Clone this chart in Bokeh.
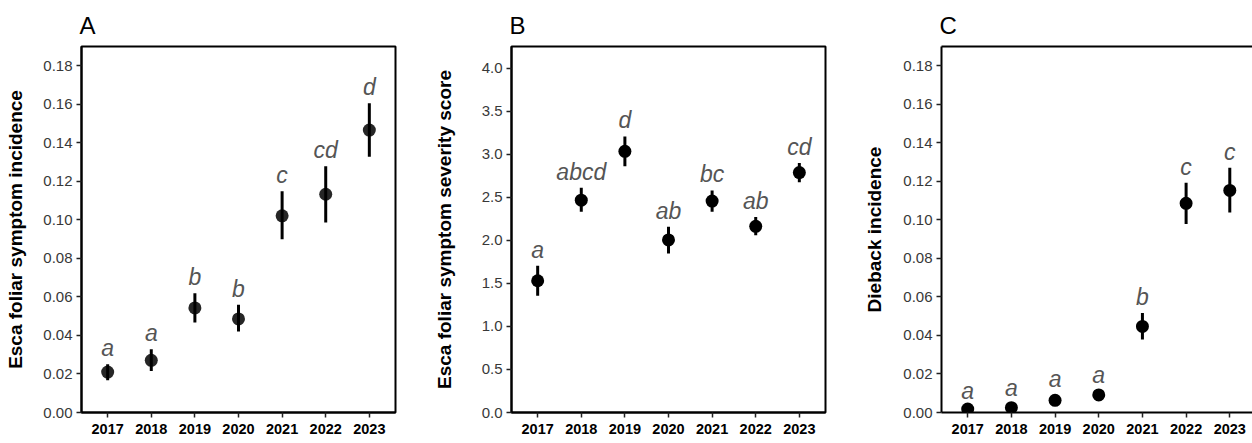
from bokeh.plotting import figure
from bokeh.models import Range1d, FixedTicker, PrintfTickFormatter, LinearAxis, ColumnDataSource
from bokeh.layouts import row
from bokeh.embed import file_html
from bokeh.resources import INLINE
from bokeh.core.properties import value

FONT = "Liberation Sans"

years = ["2017", "2018", "2019", "2020", "2021", "2022", "2023"]

# Panel A: Esca foliar symptom incidence
a_mean = [0.0210, 0.0271, 0.0543, 0.0486, 0.1021, 0.1133, 0.1466]
a_lower = [0.0167, 0.0216, 0.0467, 0.0421, 0.0900, 0.0986, 0.1328]
a_upper = [0.0250, 0.0328, 0.0619, 0.0559, 0.1148, 0.1278, 0.1605]
a_letters = ["a", "a", "b", "b", "c", "cd", "d"]
a_ticks = [0.00, 0.02, 0.04, 0.06, 0.08, 0.10, 0.12, 0.14, 0.16, 0.18]

# Panel B: Esca foliar symptom severity score
b_mean = [1.530, 2.466, 3.033, 2.004, 2.455, 2.162, 2.786]
b_lower = [1.356, 2.331, 2.859, 1.846, 2.331, 2.058, 2.674]
b_upper = [1.703, 2.609, 3.206, 2.158, 2.578, 2.270, 2.898]
b_letters = ["a", "abcd", "d", "ab", "bc", "ab", "cd"]
b_ticks = [0.0, 0.5, 1.0, 1.5, 2.0, 2.5, 3.0, 3.5, 4.0]

# Panel C: Dieback incidence
c_mean = [0.0018, 0.0025, 0.0063, 0.0091, 0.0447, 0.1086, 0.1153]
c_lower = [0.0007, 0.0012, 0.0040, 0.0068, 0.0379, 0.0978, 0.1038]
c_upper = [0.0031, 0.0043, 0.0090, 0.0113, 0.0517, 0.1193, 0.1271]
c_letters = ["a", "a", "a", "a", "b", "c", "c"]
c_ticks = a_ticks


def panel(title, ylabel, mean, lower, upper, letters, yticks, ymax, fmt,
          width, border_left, border_right, xend, label_standoff,
          point_alpha, full_box=True):
    pos = [i + 1 for i in range(len(years))]
    src = ColumnDataSource(dict(x=pos, m=mean, lo=lower, hi=upper, lab=letters))
    p = figure(width=width, height=441, output_backend="svg", toolbar_location=None,
               x_range=Range1d(0.4, xend), y_range=Range1d(0, ymax),
               min_border_left=border_left, min_border_right=border_right,
               min_border_top=46, min_border_bottom=29, title=title)
    p.background_fill_color = "white"
    p.border_fill_color = "white"
    p.grid.visible = False

    p.title.text_font = FONT
    p.title.text_font_size = "24px"
    p.title.text_font_style = "normal"
    p.title.text_color = "black"
    p.title.align = "left"
    p.title.standoff = 16
    p.title.offset = -2

    xa = p.below[0]
    xa.ticker = FixedTicker(ticks=pos)
    xa.major_label_overrides = {k: y for k, y in zip(pos, years)}
    xa.major_label_text_font = FONT
    xa.major_label_text_font_size = "14.5px"
    xa.major_label_text_font_style = "bold"
    xa.major_label_text_color = "black"
    xa.major_label_standoff = 6

    ya = p.left[0]
    ya.ticker = FixedTicker(ticks=yticks)
    ya.formatter = PrintfTickFormatter(format=fmt)
    ya.major_label_text_font = FONT
    ya.major_label_text_font_size = "15px"
    ya.major_label_text_color = "#383838"
    ya.major_label_standoff = 4
    ya.axis_label = ylabel
    ya.axis_label_text_font = FONT
    ya.axis_label_text_font_size = "19px"
    ya.axis_label_text_font_style = "bold"
    ya.axis_label_text_color = "black"
    ya.axis_label_standoff = label_standoff

    for ax in (xa, ya):
        ax.axis_line_width = 2
        ax.axis_line_color = "black"
        ax.major_tick_out = 5
        ax.major_tick_in = 0
        ax.major_tick_line_width = 1.5
        ax.major_tick_line_color = "#222222"
        ax.minor_tick_line_color = None

    if full_box:
        p.outline_line_color = "black"
        p.outline_line_width = 2
    else:
        p.outline_line_color = None
        top = LinearAxis(ticker=FixedTicker(ticks=[]), major_tick_out=0,
                         major_tick_in=0, minor_tick_out=0, minor_tick_in=0,
                         major_label_standoff=0, axis_line_width=2,
                         axis_line_color="black", major_label_text_font_size="0px")
        p.add_layout(top, "above")

    p.segment(x0="x", y0="lo", x1="x", y1="hi", source=src,
              line_width=3, line_color="black")
    p.scatter(x="x", y="m", source=src, size=13, fill_color="black",
              line_color=None, fill_alpha=point_alpha)
    p.text(x="x", y="hi", text="lab", source=src, y_offset=-16,
           text_align="center", text_baseline="alphabetic",
           text_font=value(FONT), text_font_style="italic",
           text_font_size="23px", text_color="#555555")
    return p


pa = panel("A", "Esca foliar symptom incidence", a_mean, a_lower, a_upper, a_letters,
           a_ticks, 0.19, "%.2f", 430, 81, 35, 7.6, 14, 0.85)
pb = panel("B", "Esca foliar symptom severity score", b_mean, b_lower, b_upper, b_letters,
           b_ticks, 4.25, "%.1f", 430, 81, 35, 7.6, 24, 1.0)
pc = panel("C", "Dieback incidence", c_mean, c_lower, c_upper, c_letters,
           c_ticks, 0.19, "%.2f", 392, 81, 0, 7.52, 15, 1.0, full_box=False)

layout = row(pa, pb, pc, spacing=0)
open("out.html", "w").write(file_html(layout, INLINE))
